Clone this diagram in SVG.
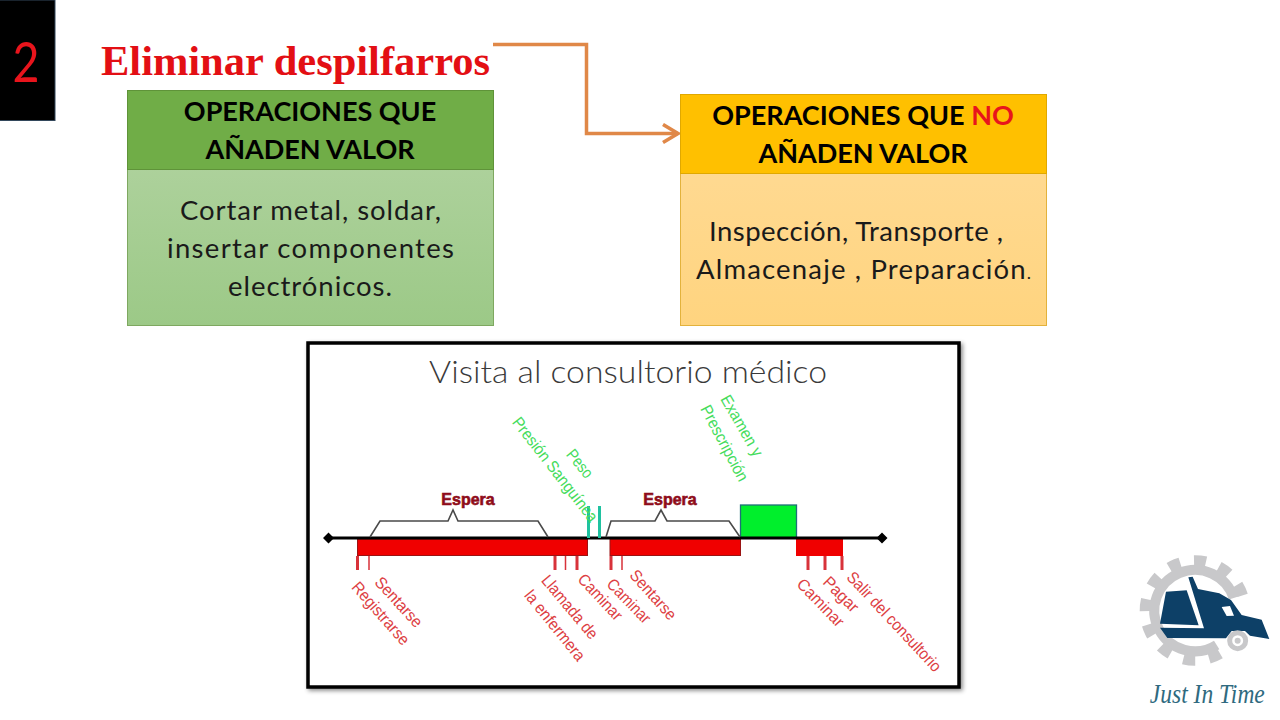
<svg xmlns="http://www.w3.org/2000/svg" width="1280" height="720" viewBox="0 0 1280 720">
<style>
.h{font-family:Lato,Carlito,"Open Sans",sans-serif;font-weight:700;font-size:27px;fill:#000;text-anchor:middle}
.b{font-family:Lato,Carlito,"Open Sans",sans-serif;font-size:27.500px;fill:#1a1a1a;text-anchor:middle}
.r text{font-family:"Liberation Sans",Arial,sans-serif;font-size:16.500px;fill:#dd3f44}
.g text{font-family:"Liberation Sans",Arial,sans-serif;font-size:16.500px;fill:#45dc5c}
.e{font-family:"Liberation Sans",Arial,sans-serif;font-weight:700;font-size:16px;fill:#8f0c1a;stroke:#8f0c1a;stroke-width:.6;text-anchor:middle}
.tick{stroke:#d8323a;fill:none}
.br{fill:none;stroke:#4a4a4a;stroke-width:1.600}
</style>
<defs>
<linearGradient id="gg" x1="0" y1="0" x2="0" y2="1"><stop offset="0" stop-color="#b5d5a5"/><stop offset="1" stop-color="#9cc987"/></linearGradient>
<linearGradient id="og" x1="0" y1="0" x2="0" y2="1"><stop offset="0" stop-color="#ffdc9a"/><stop offset="1" stop-color="#ffd47f"/></linearGradient>
<marker id="ah" markerUnits="userSpaceOnUse" markerWidth="20" markerHeight="24" refX="16" refY="11" orient="auto"><path d="M1 2 L16 11 L1 20" fill="none" stroke="#e08848" stroke-width="3.600"/></marker>
<filter id="sh" x="-5%" y="-5%" width="110%" height="110%"><feDropShadow dx="2" dy="2" stdDeviation="2" flood-color="#000" flood-opacity=".45"/></filter>
</defs>
<rect width="1280" height="720" fill="#fff"/>

<g id="badge">
<rect x="-1" y="0" width="56" height="120.500" fill="#000" stroke="#33475b" stroke-width="1"/>
<text x="26" y="82" font-family="Lato,Carlito,'Open Sans',sans-serif" font-size="57" fill="#e8141c" text-anchor="middle" textLength="27" lengthAdjust="spacingAndGlyphs">2</text>
</g>

<g id="title">
<text x="101" y="75" font-family="'Liberation Serif','Times New Roman',serif" font-weight="700" font-size="42" fill="#e30f14" textLength="389" lengthAdjust="spacingAndGlyphs">Eliminar despilfarros</text>
</g>

<g id="connectors">
<path d="M493 44.500 H586.500 V133.500 H678" fill="none" stroke="#e08848" stroke-width="3.500" marker-end="url(#ah)"/>
</g>

<g id="value-node">
<rect x="127.500" y="90.500" width="366" height="235" fill="url(#gg)" stroke="#7ea860"/>
<rect x="127.500" y="90.500" width="366" height="79" fill="#70ad47" stroke="#5f9339"/>
<text class="h" x="310" y="121">OPERACIONES QUE</text>
<text class="h" x="310" y="159">AÑADEN VALOR</text>
<text class="b" x="310.500" y="220" textLength="261">Cortar metal, soldar,</text>
<text class="b" x="310.500" y="258" textLength="287">insertar componentes</text>
<text class="b" x="310" y="296" textLength="164">electrónicos.</text>
</g>

<g id="no-value-node">
<rect x="680.500" y="94.500" width="366" height="231" fill="url(#og)" stroke="#e3b23c"/>
<rect x="680.500" y="94.500" width="366" height="79" fill="#ffc000" stroke="#e0a800"/>
<text class="h" x="863" y="125">OPERACIONES QUE <tspan fill="#e8141c">NO</tspan></text>
<text class="h" x="863" y="163">AÑADEN VALOR</text>
<text class="b" x="856" y="241" textLength="294">Inspección, Transporte ,</text>
<text class="b" x="863.500" y="279" textLength="335">Almacenaje , Preparación<tspan font-size="18">.</tspan></text>
</g>

<g id="chart">
<rect x="308" y="343" width="651" height="344" fill="#fff" stroke="#000" stroke-width="3.500" filter="url(#sh)"/>
<text x="628" y="383" font-family="Lato,'Liberation Sans',Arial,sans-serif" font-weight="300" font-size="31" fill="#3a3a3a" text-anchor="middle" textLength="398" lengthAdjust="spacingAndGlyphs">Visita al consultorio médico</text>

<rect x="357.500" y="539" width="230" height="16.500" fill="#f00000" stroke="#9a1414" stroke-width="1"/>
<rect x="610" y="539" width="130.500" height="16.500" fill="#f00000" stroke="#9a1414" stroke-width="1"/>
<path d="M796 539 H843 V556 H796 Z" fill="#f00000"/>
<rect x="740.500" y="505" width="56" height="33" fill="#00ef2c" stroke="#1f6f78" stroke-width="1.300"/>
<path d="M329 538 H882" stroke="#000" stroke-width="3"/>
<path d="M323 538 L328.500 532.500 L334 538 L328.500 543.500 Z M876.500 538 L882 532.500 L887.500 538 L882 543.500 Z" fill="#000"/>

<path class="br" d="M370 537 L380 521 H448 L453 510 L458 521 H538 L548 537"/>
<path class="br" d="M606 537 L611 521 H655 L661 510 L667 521 H729 L740 537"/>
<text class="e" x="468" y="505">Espera</text>
<text class="e" x="670" y="505">Espera</text>

<path d="M588.500 506 V538 M599.500 506 V538" stroke="#1fc2a0" stroke-width="3"/>

<g class="tick">
<path stroke-width="3" d="M357.500 556 V570 M555 556 V570 M577 556 V570 M611 556 V570 M808 556 V570 M825 556 V570 M842 556 V570"/>
<path stroke-width="1.500" d="M369 556 V570 M565.500 556 V570 M622 556 V570"/>
</g>

<g class="r">
<text transform="translate(355 584) rotate(48.500)" dy=".35em" textLength="78" lengthAdjust="spacingAndGlyphs">Registrarse</text>
<text transform="translate(378 579) rotate(47.500)" dy=".35em" textLength="62" lengthAdjust="spacingAndGlyphs">Sentarse</text>
<text transform="translate(545 577) rotate(50)" dy=".35em" textLength="78" lengthAdjust="spacingAndGlyphs">Llamada de</text>
<text transform="translate(528 592) rotate(51)" dy=".35em" textLength="86" lengthAdjust="spacingAndGlyphs">la enfermera</text>
<text transform="translate(581 576) rotate(47)" dy=".35em" textLength="57" lengthAdjust="spacingAndGlyphs">Caminar</text>
<text transform="translate(610 581) rotate(46)" dy=".35em" textLength="55" lengthAdjust="spacingAndGlyphs">Caminar</text>
<text transform="translate(633 572) rotate(48)" dy=".35em" textLength="61" lengthAdjust="spacingAndGlyphs">Sentarse</text>
<text transform="translate(800 581) rotate(46)" dy=".35em" textLength="60" lengthAdjust="spacingAndGlyphs">Caminar</text>
<text transform="translate(826 579) rotate(45)" dy=".35em" textLength="43" lengthAdjust="spacingAndGlyphs">Pagar</text>
<text transform="translate(850 574) rotate(47)" dy=".35em" textLength="130" lengthAdjust="spacingAndGlyphs">Salir del consultorio</text>
</g>
<g class="g">
<text transform="translate(516 419) rotate(52)" dy=".35em" textLength="128" lengthAdjust="spacingAndGlyphs">Presión Sanguínea</text>
<text transform="translate(570 451) rotate(51)" dy=".35em" textLength="32" lengthAdjust="spacingAndGlyphs">Peso</text>
<text transform="translate(725 396) rotate(60)" dy=".35em" textLength="68" lengthAdjust="spacingAndGlyphs">Examen y</text>
<text transform="translate(705 406) rotate(62)" dy=".35em" textLength="84" lengthAdjust="spacingAndGlyphs">Prescripción</text>
</g>
</g>

<g id="logo" transform="translate(1130 545) scale(.3333)">
<path d="M311 159 A122 122 0 1 0 260 300" fill="none" stroke="#c8c8ca" stroke-width="30"/>
<path d="M338 151 A150 150 0 1 0 274 324" fill="none" stroke="#c8c8ca" stroke-width="32" stroke-dasharray="36 42"/>
<path d="M175 97 L188 95 L204 132 L268 145 L303 165 L335 210 L395 224 L418 282 L360 272 L345 258 L305 258 L288 280 L112 279 L90 248 L222 250 Z" fill="#0d4067"/>
<path d="M108 140 L170 136 L206 241 L90 236 Z" fill="#0d4067"/>
<path d="M275 186 L300 183 L312 212 L290 213 Z" fill="#fff"/>
<circle cx="323" cy="287" r="24" fill="#fff" stroke="#c8c8ca" stroke-width="15"/>
<circle cx="323" cy="287" r="9" fill="#c8c8ca"/>
<text x="232" y="473" font-family="'Liberation Serif',serif" font-style="italic" font-size="80" fill="#2f6a80" text-anchor="middle" textLength="345" lengthAdjust="spacingAndGlyphs">Just In Time</text>
</g>
</svg>
